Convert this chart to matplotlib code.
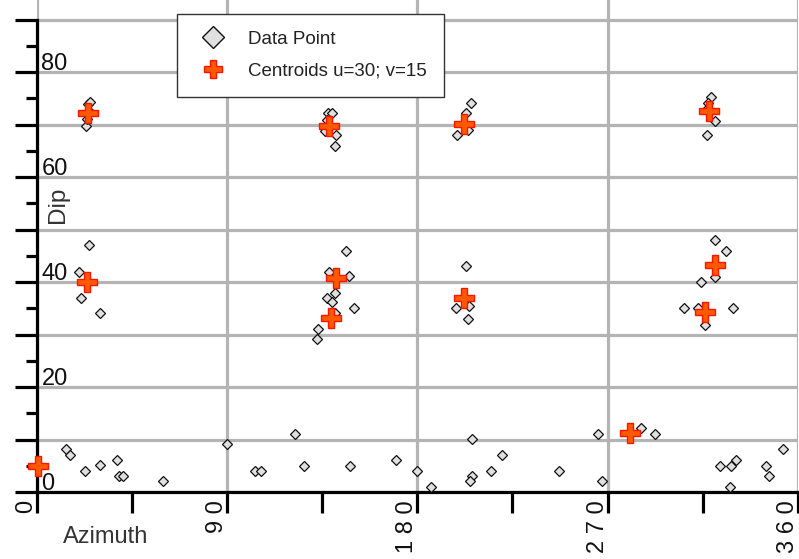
import matplotlib.pyplot as plt
from matplotlib.lines import Line2D
from matplotlib.transforms import offset_copy

plt.rcParams['font.family'] = ['Liberation Sans', 'DejaVu Sans']

# measured fracture orientations (degrees)
azimuth = [24.5, 25.4, 23.6, 24.0, 25.0,
           25.0, 20.3, 21.2, 30.2,
           14.1, 16.0, 23.1, 30.2, 38.1, 39.1, 41.1, 59.9,
           90.0, 103.2, 106.0, 122.0, 126.3, 148.4, 170.1, 180.0, 186.6,
           205.9, 205.9, 205.0, 214.9, 220.0, 246.9, 265.3, 267.2,
           285.6, 292.2, 323.3, 328.5, 330.8, 328.0, 345.0, 346.3, 353.0,
           137.6, 139.9, 137.1, 136.2, 141.8, 141.3,
           146.1, 138.5, 147.5, 140.9, 137.1, 139.9, 150.3, 140.9, 132.9, 132.4,
           205.4, 203.1, 198.8, 204.0,
           203.1, 198.4, 204.0, 204.5,
           319.0, 317.6, 317.1, 320.9, 317.1,
           320.9, 326.1, 320.9, 314.3, 306.3, 312.9, 329.4, 316.2]
dip = [74.0, 74.2, 69.8, 71.0, 72.5,
       47.0, 41.9, 37.0, 34.1,
       8.2, 7.0, 4.0, 5.1, 6.1, 3.0, 3.0, 2.1,
       9.1, 4.0, 4.0, 11.0, 5.0, 5.0, 6.1, 4.0, 1.0,
       10.1, 3.0, 2.1, 4.0, 7.0, 4.0, 11.0, 2.1,
       12.2, 11.0, 5.0, 5.0, 6.1, 1.0, 5.0, 3.0, 8.2,
       72.2, 72.2, 70.9, 68.8, 68.0, 65.9,
       45.9, 41.9, 41.1, 37.9, 37.0, 36.2, 35.0, 34.1, 31.0, 29.1,
       74.1, 72.2, 68.0, 69.0,
       43.0, 35.0, 33.0, 35.5,
       75.2, 74.1, 73.0, 70.7, 68.0,
       48.0, 45.9, 41.0, 40.0, 35.0, 35.0, 35.0, 31.8]

centroid_azimuth = [24.5, 24.0, 0.5, 138.5, 141.8, 139.0,
                    202.2, 202.2, 318.1, 320.9, 316.2, 280.8]
centroid_dip = [72.2, 40.0, 5.0, 69.7, 40.8, 33.1,
                70.1, 36.9, 72.6, 43.2, 34.3, 11.2]

x_tick_values = [0, 90, 180, 270, 360]
x_tick_labels = ['0', '9 0', '1 8 0', '2 7 0', '3 6 0']
y_tick_values = [0, 20, 40, 60, 80]
y_tick_labels = ['0', '20', '40', '60', '80']

diamond_face = '#e0e0e0'
plus_face = '#ff5a00'
plus_edge = '#ff1400'
grid_color = '#b4b4b4'

fig = plt.figure(figsize=(7.99, 5.59), dpi=100)
ax = fig.add_axes([36.5 / 799, 67 / 559, 761.5 / 799, 492 / 559])
ax.set_xlim(0, 360)
ax.set_ylim(0, 492 / 5.25)

ax.plot(azimuth, dip, ls='none', marker='D', ms=5.2, mfc=diamond_face,
        mec='#111111', mew=0.9, zorder=3)
ax.plot(centroid_azimuth, centroid_dip, ls='none', marker='P', ms=14.5,
        mfc=plus_face, mec=plus_edge, mew=1.0, zorder=4, clip_on=False)

# axes, ticks and grid
for side in ['top', 'right']:
    ax.spines[side].set_visible(False)
for side in ['left', 'bottom']:
    ax.spines[side].set_linewidth(2.3)
    ax.spines[side].set_color('black')
ax.spines['left'].set_bounds(0, 90)

ax.set_xticks(range(0, 361, 90))
ax.set_xticks(range(45, 360, 90), minor=True)
ax.set_yticks(range(0, 91, 10))
ax.set_yticks(range(5, 90, 10), minor=True)
ax.tick_params(axis='x', which='both', direction='out', length=15, width=2.3,
               labelbottom=False)
ax.tick_params(axis='y', which='major', direction='out', length=16, width=2.3,
               labelleft=False)
ax.tick_params(axis='y', which='minor', direction='out', length=8, width=2.3)
ax.grid(True, which='major', color=grid_color, lw=2.3)
ax.set_axisbelow(True)

# tick labels drawn as text
for v, lab in zip(y_tick_values, y_tick_labels):
    tr = offset_copy(ax.transData, fig=fig, x=5, y=2, units='dots')
    ax.text(0, v, lab, transform=tr, ha='left', va='baseline', fontsize=17,
            color='#111111', zorder=5)
for v, lab in zip(x_tick_values, x_tick_labels):
    tr = offset_copy(ax.transData, fig=fig, x=1, y=-8, units='dots')
    ax.text(v, 0, lab, transform=tr, ha='right', va='top', rotation=90,
            fontsize=17, color='#111111', clip_on=False)

fig.text(63 / 799, 1 - 543 / 559, 'Azimuth', ha='left', va='baseline',
         fontsize=17, color='#333333')
fig.text(58 / 799, 1 - 205 / 559, 'Dip', ha='center', va='center',
         rotation=90, fontsize=17.5, color='#333333')

handles = [
    Line2D([], [], ls='none', marker='D', ms=11.5, mfc=diamond_face,
           mec='#111111', mew=1.0),
    Line2D([], [], ls='none', marker='P', ms=13, mfc=plus_face,
           mec=plus_edge, mew=1.0),
]
labels = ['Data Point', 'Centroids u=30; v=15']
leg = ax.legend(handles, labels, loc='upper left',
                bbox_to_anchor=(177 / 799, 1 - 14 / 559),
                bbox_transform=fig.transFigure, fontsize=13.5, frameon=True,
                fancybox=False, framealpha=1, edgecolor='#333333',
                borderpad=0.9, labelspacing=0.78, handlelength=2.05,
                handletextpad=0.85, borderaxespad=0)
leg.get_frame().set_linewidth(1.0)
leg.set_zorder(6)
for t in leg.get_texts():
    t.set_color('#222222')

fig.savefig('out.png', dpi=100)
